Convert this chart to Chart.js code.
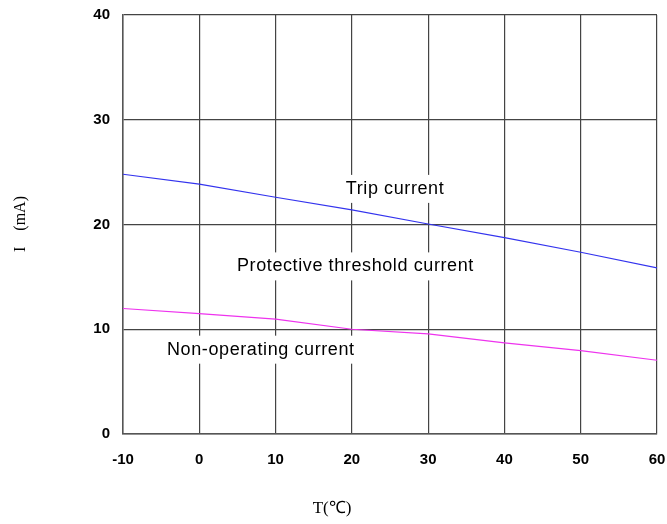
<!DOCTYPE html>
<html>
<head>
<meta charset="utf-8">
<script src="https://cdn.jsdelivr.net/npm/chart.js@4"></script>
<style>
  html, body { margin: 0; padding: 0; background: #fff; }
  #wrap { width: 667px; height: 524px; }
</style>
</head>
<body>
<div id="wrap"><canvas id="chart" width="667" height="524"></canvas></div>
<script>
// temperature (°C) on x, current (mA) on y
const temps = [-10, 0, 10, 20, 30, 40, 50, 60];
const tripCurrent = [24.8, 23.85, 22.6, 21.4, 20.05, 18.75, 17.35, 15.85];
const nonOperating = [11.98, 11.5, 10.96, 10.0, 9.55, 8.7, 7.96, 7.04];
const xTicks = [-10, 0, 10, 20, 30, 40, 50, 60];
const yTicks = [0, 10, 20, 30, 40];

// text labels inside the plot (value coords)
const notes = [
  { text: 'Trip current', x: 25.66, y: 23.4 },
  { text: 'Protective threshold current', x: 20.47, y: 16.0 },
  { text: 'Non-operating current', x: 8.07, y: 8.05 }
];

// keep tick labels from pushing the plot area in
const noOverflow = (scale) => {
  scale.paddingLeft = 0;
  scale.paddingRight = 0;
  scale.paddingTop = 0;
  scale.paddingBottom = 0;
};

const labelsPlugin = {
  id: 'labels',
  beforeDatasetsDraw(chart) {
    const { ctx, scales } = chart;
    ctx.save();
    ctx.font = '18px "Liberation Sans", Arial, sans-serif';
    ctx.letterSpacing = '0.6px';
    ctx.textAlign = 'center';
    ctx.textBaseline = 'middle';
    notes.forEach(n => {
      const px = scales.x.getPixelForValue(n.x);
      const py = scales.y.getPixelForValue(n.y);
      const w = ctx.measureText(n.text).width + 8;
      ctx.fillStyle = '#fff';
      ctx.fillRect(px - w / 2, py - 14, w, 28);
      ctx.fillStyle = '#000';
      ctx.fillText(n.text, px, py);
    });
    ctx.restore();
  },
  afterDraw(chart) {
    const { ctx } = chart;
    ctx.save();
    ctx.fillStyle = '#000';
    ctx.textAlign = 'center';
    ctx.textBaseline = 'middle';
    ctx.font = '17px "Liberation Serif", "Times New Roman", serif';
    ctx.fillText('T(℃)', 332, 509);
    ctx.font = '16px "Liberation Serif", "Times New Roman", serif';
    ctx.translate(21, 224);
    ctx.rotate(-Math.PI / 2);
    ctx.fillText('I    (mA)', 0, 0);
    ctx.restore();
  }
};

new Chart(document.getElementById('chart'), {
  type: 'line',
  data: {
    datasets: [
      {
        label: 'Trip current',
        data: temps.map((t, i) => ({ x: t, y: tripCurrent[i] })),
        borderColor: '#3333ee',
        borderWidth: 1.2,
        pointRadius: 0,
        tension: 0
      },
      {
        label: 'Non-operating current',
        data: temps.map((t, i) => ({ x: t, y: nonOperating[i] })),
        borderColor: '#ee33ee',
        borderWidth: 1.2,
        pointRadius: 0,
        tension: 0
      }
    ]
  },
  options: {
    responsive: false,
    animation: false,
    layout: { padding: { left: 0, right: 10, top: 15, bottom: 0 } },
    plugins: {
      legend: { display: false },
      tooltip: { enabled: false }
    },
    scales: {
      x: {
        type: 'linear',
        min: -10,
        max: 60,
        afterBuildTicks: (scale) => { scale.ticks = xTicks.map(v => ({ value: v })); },
        afterFit: (scale) => { scale.height = 90; noOverflow(scale); },
        grid: { color: '#444', lineWidth: 1.2, drawTicks: false },
        border: { color: '#555', width: 1.5 },
        ticks: {
          color: '#000',
          padding: 17,
          font: { family: '"Liberation Sans", Arial, sans-serif', size: 15, weight: 'bold' }
        }
      },
      y: {
        min: 0,
        max: 40,
        afterBuildTicks: (scale) => { scale.ticks = yTicks.map(v => ({ value: v })); },
        afterFit: (scale) => { scale.width = 123; noOverflow(scale); },
        grid: { color: '#444', lineWidth: 1.2, drawTicks: false },
        border: { color: '#555', width: 1.5 },
        ticks: {
          color: '#000',
          padding: 13,
          font: { family: '"Liberation Sans", Arial, sans-serif', size: 15, weight: 'bold' }
        }
      }
    }
  },
  plugins: [labelsPlugin]
});
</script>
</body>
</html>
